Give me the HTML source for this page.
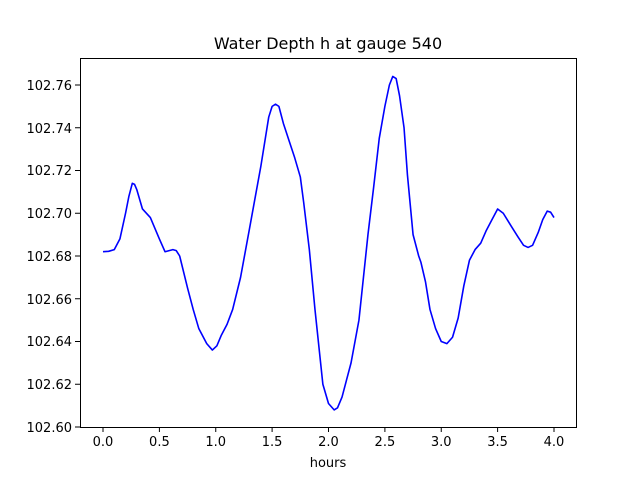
<!DOCTYPE html>
<html><head><meta charset="utf-8"><style>
body{margin:0;background:#fff;}
svg{display:block;font-family:"DejaVu Sans","Liberation Sans",sans-serif;}
</style></head><body>
<svg width="640" height="480" viewBox="0 0 640 480">
<rect width="640" height="480" fill="#fff"/>
<text x="328" y="49" font-size="16" text-anchor="middle">Water Depth h at gauge 540</text>
<g transform="translate(103,427) scale(1.1275,-2.1375)">
<path fill="none" stroke="#0000ff" stroke-width="1.6" vector-effect="non-scaling-stroke" stroke-linejoin="round" d="M0,82 L5,82.2 L10,83 L15,88 L20,100 L23,108 L26,114 L28,113.5 L30,111 L35,102 L42,98 L50,88 L55,82 L62,83 L65,82.5 L68,80 L75,65 L80,55 L85,46 L92,39 L97,36 L101,38 L105,43 L110,48 L115,55 L122,70 L130,93 L140,122 L147,145 L150,150 L153,151 L156,150 L160,142 L165,134 L170,126 L175,117 L178,105 L183,83 L188,55 L192,35 L195,20 L200,11 L205,8 L208,9 L212,14 L216,22 L220,30 L227,50 L235,90 L240,112 L245,135 L250,150 L254,160 L257,164 L260,163 L263,155 L267,140 L270,118 L275,90 L280,80 L282,77 L286,68 L290,55 L295,46 L300,40 L305,39 L310,42 L315,51 L320,66 L325,78 L330,83 L335,86 L340,92 L345,97 L350,102 L355,100 L362,94 L368,89 L373,85 L377,84 L381,85 L386,91 L390,97 L394,101 L397,100.5 L400,98"/>
</g>
<rect x="80.5" y="58.5" width="496" height="369" fill="none" stroke="#000" stroke-width="1"/>
<g stroke="#000" stroke-width="1">
<line x1="103" y1="427" x2="103" y2="432"/><line x1="159.4" y1="427" x2="159.4" y2="432"/><line x1="215.75" y1="427" x2="215.75" y2="432"/><line x1="272.1" y1="427" x2="272.1" y2="432"/><line x1="328.5" y1="427" x2="328.5" y2="432"/><line x1="384.9" y1="427" x2="384.9" y2="432"/><line x1="441.25" y1="427" x2="441.25" y2="432"/><line x1="497.6" y1="427" x2="497.6" y2="432"/><line x1="554" y1="427" x2="554" y2="432"/>
<line x1="75" y1="427" x2="80" y2="427"/><line x1="75" y1="384.25" x2="80" y2="384.25"/><line x1="75" y1="341.5" x2="80" y2="341.5"/><line x1="75" y1="298.75" x2="80" y2="298.75"/><line x1="75" y1="256" x2="80" y2="256"/><line x1="75" y1="213.25" x2="80" y2="213.25"/><line x1="75" y1="170.5" x2="80" y2="170.5"/><line x1="75" y1="127.75" x2="80" y2="127.75"/><line x1="75" y1="85" x2="80" y2="85"/>
</g>
<g font-size="13" text-anchor="middle">
<text x="103" y="446">0.0</text><text x="159.4" y="446">0.5</text><text x="215.75" y="446">1.0</text><text x="272.1" y="446">1.5</text><text x="328.5" y="446">2.0</text><text x="384.9" y="446">2.5</text><text x="441.25" y="446">3.0</text><text x="497.6" y="446">3.5</text><text x="554" y="446">4.0</text>
<text x="328" y="467">hours</text>
</g>
<g font-size="13" text-anchor="end">
<text x="72" y="432">102.60</text><text x="72" y="389">102.62</text><text x="72" y="346">102.64</text><text x="72" y="304">102.66</text><text x="72" y="261">102.68</text><text x="72" y="218">102.70</text><text x="72" y="175">102.72</text><text x="72" y="133">102.74</text><text x="72" y="90">102.76</text>
</g>
</svg>
</body></html>
